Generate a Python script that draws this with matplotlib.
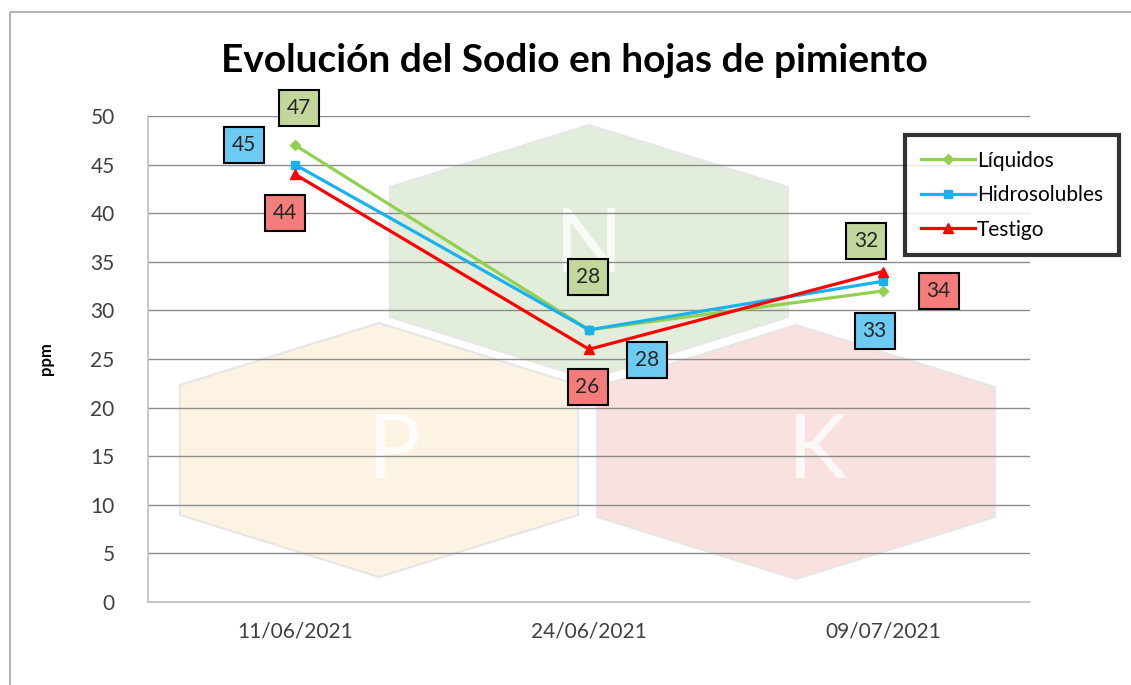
import matplotlib.pyplot as plt
import matplotlib.transforms as mtransforms
from matplotlib.patches import Polygon, Rectangle

fechas = ["11/06/2021", "24/06/2021", "09/07/2021"]
liquidos = [47, 28, 32]
hidrosolubles = [45, 28, 33]
testigo = [44, 26, 34]
yticks = [0, 5, 10, 15, 20, 25, 30, 35, 40, 45, 50]

W, H = 1131, 685
fig = plt.figure(figsize=(W / 100, H / 100), dpi=100)
plt.rcParams['font.family'] = ['Lato', 'DejaVu Sans']

# axes placed in pixel terms
left, right, top, bottom = 148, 1030, 116, 602
ax = fig.add_axes([left / W, 1 - bottom / H, (right - left) / W, (bottom - top) / H])

# pixel transform (origin top-left)
pix = mtransforms.Affine2D().scale(1 / W, -1 / H).translate(0, 1) + fig.transFigure

# outer chart border
fig.patches.append(Rectangle((10, 12), 1200, 800, transform=pix, fill=False,
                             ec='#a6a6a6', lw=1.2))


# ************ NPK watermark ************
def hexagon(cx, ytop, hw=199, sh=62, vert=130):
    pts = [(cx, ytop), (cx + hw, ytop + sh), (cx + hw, ytop + sh + vert),
           (cx, ytop + 2 * sh + vert), (cx - hw, ytop + sh + vert), (cx - hw, ytop + sh)]
    return pts


for cx, ytop, col in [(589, 125, '#e3eddc'), (379, 323, '#fdf3e2'), (796, 325, '#f8e1de')]:
    ax.add_patch(Polygon(hexagon(cx, ytop), closed=True, transform=pix, fc=col,
                         ec='#e6e6e6', lw=1.5, zorder=0.1, clip_on=False))

for letter, x, y in [("N", 589, 247), ("P", 395, 453), ("K", 817, 453)]:
    ax.text(x, y, letter, transform=pix, fontsize=64, color='white', alpha=0.8,
            ha='center', va='center', zorder=0.2, fontweight='normal')

# ************ lines ************
x = range(len(fechas))
ax.plot(x, liquidos, color='#92d050', lw=2.3, marker='D', ms=5, label='Líquidos', zorder=3)
ax.plot(x, hidrosolubles, color='#19b2ee', lw=2.3, marker='s', ms=6, label='Hidrosolubles', zorder=3)
ax.plot(x, testigo, color='#ff0000', lw=2.3, marker='^', ms=7, label='Testigo', zorder=3)

# data labels (offsets in points)
offs = {
    'L': [(3, 27), (-1, 38), (-12, 36)],
    'H': [(-37, 14), (42, -22), (-6, -36)],
    'T': [(-7, -28), (-1, -27), (40, -14)],
}
for key, vals, fc in [('L', liquidos, '#c3d69b'), ('H', hidrosolubles, '#6ccbf2'),
                      ('T', testigo, '#f47c7a')]:
    for i, v in enumerate(vals):
        ax.annotate(str(v), (i, v), textcoords='offset points', xytext=offs[key][i],
                    ha='center', va='center', fontsize=15, color='#262626', zorder=5,
                    bbox=dict(boxstyle='square,pad=0.38', fc=fc, ec='black', lw=1.5))

# ************ axes format ************
ax.set_xlim(-0.5, 2.5)
ax.set_ylim(0, 50)
ax.set_yticks(yticks)
ax.set_xticks(list(x))
ax.set_xticklabels(fechas)
ax.set_facecolor('none')
ax.set_axisbelow(True)
ax.yaxis.grid(True, color='#8c8c8c', lw=1)
for s in ['top', 'right']:
    ax.spines[s].set_visible(False)
for s in ['left', 'bottom']:
    ax.spines[s].set_color('#bfbfbf')
    ax.spines[s].set_linewidth(1.2)
ax.tick_params(axis='both', length=0, labelsize=15, colors='#404040')
ax.tick_params(axis='y', pad=24)
ax.tick_params(axis='x', pad=14)
ax.set_ylabel('ppm', fontsize=12, fontweight='bold', labelpad=26)

fig.text(574 / W, 1 - 60 / H, 'Evolución del Sodio en hojas de pimiento', ha='center',
         va='center', fontsize=28, fontweight='bold', color='black')

leg = ax.legend(loc='upper left', bbox_to_anchor=(905, 135), bbox_transform=pix,
                fontsize=15, frameon=True, fancybox=False, handlelength=2.6,
                labelspacing=0.7, borderpad=0.75, handletextpad=0.1, borderaxespad=0)
leg.get_frame().set_edgecolor('black')
leg.get_frame().set_linewidth(3)
leg.set_zorder(6)

fig.savefig('out.png', dpi=100)
